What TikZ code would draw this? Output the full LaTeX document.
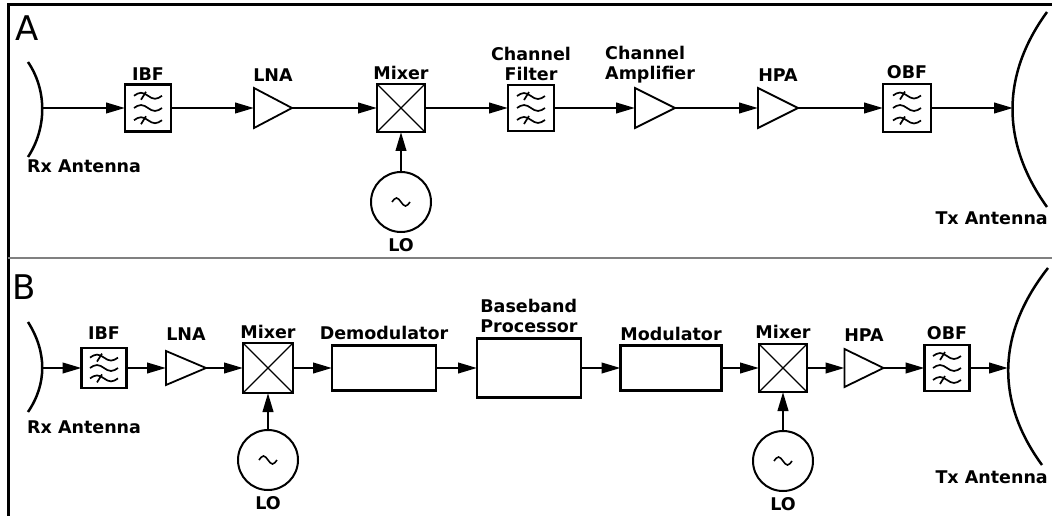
\documentclass[tikz,border=0pt]{standalone}
\usepackage{fontspec}
\setmainfont{DejaVu Sans}
\usetikzlibrary{arrows.meta,positioning}

\begin{document}
\begin{tikzpicture}[x=1pt,y=-1pt,
    >={Triangle[length=19pt,width=10.5pt]},
    sig/.style={line width=2.5pt},
    lbl/.style={font=\bfseries\fontsize{17.5}{20}\selectfont,inner sep=0pt,text height=13pt,text depth=3.5pt},
    lbltwo/.style={font=\bfseries\fontsize{17.5}{20}\selectfont,inner sep=0pt},
    paneltxt/.style={font=\fontsize{34}{34}\selectfont,inner sep=0pt},
    blockbox/.style={draw,line width=2.8pt,inner sep=0pt,outer sep=0pt}]

\useasboundingbox (0,0) rectangle (1052,516);

\newcommand\filterthingy[5]
{
    \node (#1) [blockbox,minimum width=#4pt,minimum height=#5pt] at (#2,#3) {};
    \foreach \r in {-1,0,1}
        \draw [line width=1.7pt] ([shift={(-14pt,\r*0.26*#5pt)}]#1.center) sin ++(7pt,3pt) cos ++(7pt,-3pt) sin ++(7pt,-3pt) cos ++(7pt,3pt);
    \foreach \r in {-1,1}
        \draw [line width=1.7pt] ([shift={(-7pt,\r*0.26*#5pt-4pt)}]#1.center) -- ++(5pt,8pt);
}

\newcommand\mixerthingy[4]
{
    \node (#1) [blockbox,minimum size=#4pt] at (#2,#3) {};
    \draw [line width=1.2pt] (#1.north west) -- (#1.south east) (#1.north east) -- (#1.south west);
}

\newcommand\ampthingy[5]
{
    \node (#1) [inner sep=0pt,outer sep=0pt,minimum width=#4pt,minimum height=#5pt] at (#2,#3) {};
    \draw [line width=1.8pt] (#1.north west) -- (#1.east) -- (#1.south west) -- cycle;
}

\newcommand\lothingy[4]
{
    \node (#1) [draw,circle,line width=2pt,inner sep=0pt,minimum size=60pt] at (#2,#3) {};
    \draw [line width=1.6pt] ([xshift=-9pt]#1.center) sin ++(4.5pt,4pt) cos ++(4.5pt,-4pt) sin ++(4.5pt,-4pt) cos ++(4.5pt,4pt);
    \node (#1txt) [lbl,below=5pt of #1] {LO};
    \draw [sig,->] (#1) -- (#4);
}

\draw [line width=3pt] (1052,5) -- (8,5) -- (8,516);
\draw [line width=2pt,gray] (8,258) -- (1052,258);

\node (atxt) [paneltxt] at (27,28) {A};

\draw [sig] (28,62) .. controls (47,90) and (47,128) .. (28,157);
\coordinate (rx0) at (42,108);
\node (rxtxt0) [lbl,anchor=base west] at (27,172) {Rx Antenna};

\filterthingy{ibf0}{148}{108}{46}{47}
\ampthingy{lna0}{273}{108}{38}{40}
\mixerthingy{mix0}{401}{108}{48}
\lothingy{lo0}{401}{202}{mix0}
\filterthingy{cf0}{531}{108}{46}{46}
\ampthingy{ca0}{655}{108}{40}{40}
\ampthingy{hpa0}{778}{108}{40}{40}
\filterthingy{obf0}{907}{108}{48}{48}

\draw [sig] (1047,12) .. controls (1001,75) and (1001,143) .. (1047,207);
\coordinate (tx0) at (1013,108);
\node (txtxt0) [lbl,anchor=base east] at (1048,224) {Tx Antenna};

\node (ibftxt0) [lbl,above=0.5pt of ibf0] {IBF};
\node (lnatxt0) [lbl,above=2.5pt of lna0] {LNA};
\node (mixtxt0) [lbl,above=1pt of mix0] {Mixer};
\node (cftxt0) [lbltwo,align=center,above=4pt of cf0] {Channel\\Filter};
\node (catxt0) [lbltwo,align=left,above=5pt of ca0.north west,anchor=south west,xshift=-30pt] {Channel\\Amplifier};
\node (hpatxt0) [lbl,above=2.5pt of hpa0] {HPA};
\node (obftxt0) [lbl,above=1.5pt of obf0] {OBF};

\foreach \a/\b in {rx0/ibf0,ibf0/lna0,lna0/mix0,mix0/cf0,cf0/ca0,ca0/hpa0,hpa0/obf0,obf0/tx0}
    \draw [sig,->] (\a) -- (\b);

\node (btxt) [paneltxt] at (24,287) {B};

\draw [sig] (28,322) .. controls (47,352) and (47,384) .. (28,412);
\coordinate (rx1) at (42,368);
\node (rxtxt1) [lbl,anchor=base west] at (27,433) {Rx Antenna};

\filterthingy{ibf1}{104}{368}{45}{40}
\ampthingy{lna1}{186}{368}{40}{34}
\mixerthingy{mix1}{268}{368}{50}
\lothingy{lo1}{268}{460}{mix1}
\node (dem1) [blockbox,minimum width=104pt,minimum height=45pt] at (384,368) {};
\node (bb1) [blockbox,minimum width=104pt,minimum height=59pt] at (529,368) {};
\node (mod1) [blockbox,minimum width=101pt,minimum height=45pt] at (671,368) {};
\mixerthingy{mixb1}{783}{368}{48}
\lothingy{lob1}{783}{461}{mixb1}
\ampthingy{hpa1}{864}{368}{39}{38}
\filterthingy{obf1}{947}{368}{45}{46}

\draw [sig] (1048,268) .. controls (996,334) and (996,402) .. (1042,465);
\coordinate (tx1) at (1008,368);
\node (txtxt1) [lbl,anchor=base east] at (1048,483) {Tx Antenna};

\node (ibftxt1) [lbl,above=4.5pt of ibf1] {IBF};
\node (lnatxt1) [lbl,above=6.5pt of lna1] {LNA};
\node (mixtxt1) [lbl,above=0.5pt of mix1] {Mixer};
\node (demtxt1) [lbl,above=2.5pt of dem1] {Demodulator};
\node (bbtxt1) [lbltwo,align=left,above=6pt of bb1] {Baseband\\Processor};
\node (modtxt1) [lbl,above=1.5pt of mod1] {Modulator};
\node (mixbtxt1) [lbl,above=2pt of mixb1] {Mixer};
\node (hpatxt1) [lbl,above=3.5pt of hpa1] {HPA};
\node (obftxt1) [lbl,above=2pt of obf1] {OBF};

\foreach \a/\b in {rx1/ibf1,ibf1/lna1,lna1/mix1,mix1/dem1,dem1/bb1,bb1/mod1,mod1/mixb1,mixb1/hpa1,hpa1/obf1,obf1/tx1}
    \draw [sig,->] (\a) -- (\b);

\end{tikzpicture}
\end{document}
